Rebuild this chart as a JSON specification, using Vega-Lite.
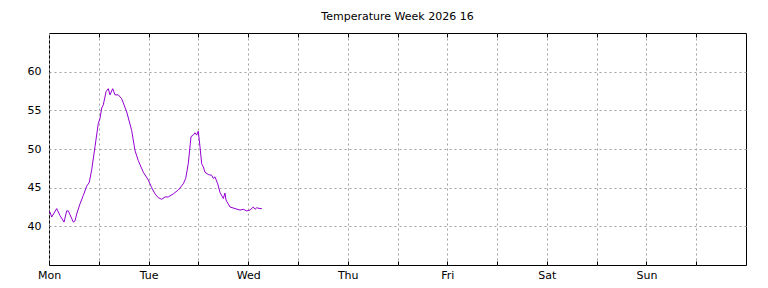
{
  "$schema": "https://vega.github.io/schema/vega-lite/v6.json",
  "autosize": {"type": "none"},
  "width": 697,
  "height": 232,
  "padding": {"left": 49, "top": 33, "right": 22, "bottom": 23},
  "background": "white",
  "title": {"text": "Temperature Week 2026 16", "font": "DejaVu Sans", "fontSize": 11, "fontWeight": "normal", "color": "black", "anchor": "middle", "offset": 11},
  "config": {
    "view": {"stroke": "black", "strokeWidth": 1},
    "axis": {"labelFont": "DejaVu Sans", "labelFontSize": 11, "labelColor": "black", "domain": false, "tickColor": "black", "gridColor": "#a0a0a0", "gridDash": [2, 3], "gridOpacity": 1, "gridWidth": 1}
  },
  "data": {"values": [
    {"h": 0.0, "t": 41.9}, {"h": 0.24, "t": 41.85}, {"h": 0.65, "t": 41.2}, {"h": 1.86, "t": 42.3}, {"h": 2.65, "t": 41.4},
    {"h": 3.62, "t": 40.55}, {"h": 4.27, "t": 42.0}, {"h": 4.65, "t": 42.0}, {"h": 5.86, "t": 40.55}, {"h": 6.27, "t": 40.7},
    {"h": 6.68, "t": 41.6}, {"h": 7.47, "t": 42.9}, {"h": 8.27, "t": 44.0}, {"h": 9.09, "t": 45.2}, {"h": 9.71, "t": 45.7},
    {"h": 10.29, "t": 47.3}, {"h": 11.09, "t": 50.3}, {"h": 11.88, "t": 53.3}, {"h": 12.29, "t": 53.95}, {"h": 12.7, "t": 55.3},
    {"h": 13.09, "t": 55.7}, {"h": 13.74, "t": 57.4}, {"h": 14.29, "t": 57.8}, {"h": 14.7, "t": 57.0}, {"h": 15.35, "t": 57.8},
    {"h": 15.91, "t": 57.0}, {"h": 16.7, "t": 57.0}, {"h": 17.52, "t": 56.5}, {"h": 18.73, "t": 54.8}, {"h": 19.93, "t": 52.4},
    {"h": 20.73, "t": 49.8}, {"h": 21.52, "t": 48.5}, {"h": 22.73, "t": 47.0}, {"h": 23.93, "t": 46.0}, {"h": 24.75, "t": 45.0},
    {"h": 25.55, "t": 44.2}, {"h": 26.34, "t": 43.7}, {"h": 27.16, "t": 43.5}, {"h": 27.96, "t": 43.8}, {"h": 28.75, "t": 43.8},
    {"h": 29.96, "t": 44.2}, {"h": 31.16, "t": 44.7}, {"h": 32.37, "t": 45.5}, {"h": 32.95, "t": 46.2}, {"h": 33.57, "t": 48.1},
    {"h": 34.23, "t": 51.6}, {"h": 34.78, "t": 51.8}, {"h": 35.19, "t": 52.1}, {"h": 35.6, "t": 51.8}, {"h": 35.98, "t": 52.3},
    {"h": 36.39, "t": 50.3}, {"h": 36.8, "t": 48.1}, {"h": 37.19, "t": 47.7}, {"h": 37.6, "t": 47.0}, {"h": 38.39, "t": 46.7},
    {"h": 39.21, "t": 46.6}, {"h": 39.6, "t": 46.2}, {"h": 40.01, "t": 46.4}, {"h": 40.66, "t": 45.5}, {"h": 41.21, "t": 44.4},
    {"h": 42.01, "t": 43.6}, {"h": 42.42, "t": 44.3}, {"h": 42.66, "t": 43.4}, {"h": 43.63, "t": 42.5}, {"h": 44.83, "t": 42.3},
    {"h": 46.04, "t": 42.1}, {"h": 46.83, "t": 42.2}, {"h": 47.65, "t": 42.0}, {"h": 48.45, "t": 42.1}, {"h": 49.24, "t": 42.5},
    {"h": 49.65, "t": 42.2}, {"h": 50.06, "t": 42.4}, {"h": 50.86, "t": 42.3}, {"h": 51.3, "t": 42.3}
  ]},
  "resolve": {"axis": {"x": "independent"}},
  "layer": [
    {
      "mark": {"type": "line", "color": "#9400d3", "strokeWidth": 1, "interpolate": "linear"},
      "encoding": {
        "x": {"field": "h", "type": "quantitative", "scale": {"domain": [0, 168], "nice": false, "zero": false},
          "axis": {"title": null, "orient": "bottom", "values": [0, 12, 24, 36, 48, 60, 72, 84, 96, 108, 120, 132, 144, 156], "tickSize": -4, "labelPadding": 8, "labelFlush": false,
            "labelExpr": "datum.value % 24 == 0 ? ['Mon','Tue','Wed','Thu','Fri','Sat','Sun'][datum.value / 24] : ''"}},
        "y": {"field": "t", "type": "quantitative", "scale": {"domain": [35, 65], "nice": false, "zero": false},
          "axis": {"title": null, "values": [40, 45, 50, 55, 60], "tickSize": 0, "labelPadding": 8}}
      }
    },
    {
      "mark": {"type": "line", "opacity": 0},
      "encoding": {
        "x": {"field": "h", "type": "quantitative",
          "axis": {"title": null, "orient": "top", "values": [12, 24, 36, 48, 60, 72, 84, 96, 108, 120, 132, 144, 156], "tickSize": -4, "labels": false, "grid": false}},
        "y": {"field": "t", "type": "quantitative"}
      }
    }
  ]
}
